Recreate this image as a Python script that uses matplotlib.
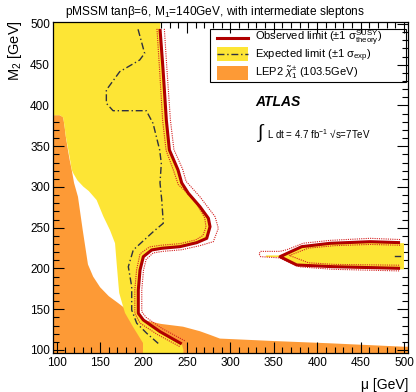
import matplotlib.pyplot as plt
from matplotlib.patches import Rectangle
from matplotlib.lines import Line2D
from matplotlib.ticker import MultipleLocator

# fontes parecidas com Helvetica (ROOT)
plt.rcParams['font.family'] = ['Liberation Sans', 'DejaVu Sans']
plt.rcParams['mathtext.fontset'] = 'custom'
plt.rcParams['mathtext.rm'] = 'Liberation Sans'
plt.rcParams['mathtext.it'] = 'Liberation Sans:italic'
plt.rcParams['mathtext.bf'] = 'Liberation Sans:bold'

# --- dados (mu, M2 em GeV) ---
# limite observado (curva principal)
obs_mu = [219, 222.5, 226.3, 229.8, 239.7, 244, 251.6, 265, 274.7, 276.6, 272.8, 261.3, 242, 221, 209.4, 199.8, 196, 194, 194, 199.8, 219, 244]
obs_m2 = [494, 444, 382, 345.4, 321, 305, 292.3, 275.8, 261.6, 251.3, 237, 231.7, 226.8, 224.8, 222.7, 214.5, 198.2, 173.6, 145, 136.8, 122.5, 107.4]

# +-1 sigma teórico
thy_a_mu = [224, 227, 231, 235, 245, 249, 265, 282.4, 286.2, 280.4, 265, 244, 222, 211, 203, 200, 198, 198, 203, 222, 248]
thy_a_m2 = [494, 444, 382, 346, 322, 307, 288, 263.6, 249.3, 232.9, 228, 223, 221, 219, 211, 198, 174, 147, 140, 126, 111]
thy_b_mu = [215.5, 218.5, 222, 226, 235, 240, 248, 261, 270.5, 272, 268.5, 260, 242, 220, 207, 196, 192, 190, 190, 196, 216, 242]
thy_b_m2 = [494, 444, 382, 345, 319, 303, 295, 280, 262, 251, 240.5, 235, 230.5, 228.5, 226.5, 218, 198, 174, 145, 133, 119, 104]

# limite esperado
exp_mu = [193.7, 201.3, 195.6, 172.6, 157.2, 157.2, 164.9, 203.2, 211, 218.6, 220.5, 219, 221, 222.8, 211.3, 188.2, 182.5, 186.4, 186.4, 192.2, 203.7, 219]
exp_m2 = [493.5, 464, 455.8, 441.5, 419, 402.7, 393.6, 393.6, 378, 345.4, 329, 305, 284, 255.5, 245.2, 222.7, 202.2, 177.7, 149, 132.8, 120.5, 106.1]

# banda amarela (esperado +-1 sigma), borda esquerda
yel_left_mu = [199.4, 199.4, 188, 178.7, 176, 172, 171, 169.1, 167.2, 161.4, 153.7, 146, 137, 130.7, 124, 119.5, 117.3, 115.5, 113.5, 110.5, 109, 107.5, 104, 90]
yel_left_m2 = [90, 108.6, 128.2, 145.4, 155, 170, 182, 206, 231, 247, 264, 284, 295, 300.4, 308, 316, 321, 333, 345, 362, 375, 385, 388, 388]

# LEP2
lep_mu = [90, 90, 104, 107.5, 109, 110.5, 113, 115, 117.3, 120, 124.5, 130, 136, 142, 150, 160, 170.6, 180, 190, 199.4, 220, 245.5, 265, 277, 288, 350, 415, 500, 510, 510]
lep_m2 = [90, 388, 388, 385.5, 375, 362, 345, 333, 321, 305, 288, 247, 205, 190, 177, 166, 157.7, 150, 143, 137, 132, 128.6, 123, 118.4, 114, 111, 108.2, 104, 104, 90]

# ilha à direita
isl_obs_mu = [495.5, 461, 414.9, 382.3, 357.3, 376.5, 418.7, 495.5]
isl_obs_m2 = [231.7, 232.9, 230.9, 226.8, 214.5, 204.3, 202.2, 200.2]
isl_yel_mu = [341, 357.3, 370, 382.3, 415, 461, 500, 500, 461, 418.7, 378, 368, 357.3, 341]
isl_yel_m2 = [216, 216, 222, 227.5, 231, 232, 231, 199, 199.5, 201.5, 204, 209, 214, 214]
isl_up_mu = [495.5, 461, 415, 384, 365, 357, 335, 333, 335, 357, 365, 380, 418, 495.5]
isl_up_m2 = [235.5, 237, 234.5, 231, 223, 221, 221, 218, 214.5, 213, 209, 202, 199, 197]
isl_dn_mu = [495.5, 461, 420, 390, 368, 390, 420, 495.5]
isl_dn_m2 = [228.5, 229.5, 228, 225, 216, 207, 205, 204]
isl_exp_mu = [490, 496]
isl_exp_m2 = [215, 215]

YELLOW = '#fde535'
ORANGE = '#fd9a36'
RED = '#b00000'
DOT = '#d42020'
EXPC = '#2e3040'
EXPLS = (0, (5, 2, 1, 2))

W, H = 416, 392
fig = plt.figure(figsize=(W / 100, H / 100), dpi=100)
ax = fig.add_axes([52.7 / W, 1 - 353 / H, (407.7 - 52.7) / W, (353 - 21.7) / H])


def fx(px):
    return px / W


def fy(py):
    return 1 - py / H


# regiões preenchidas
ax.fill(lep_mu, lep_m2, color=ORANGE, lw=0, zorder=1)
yel_mu = [90, 220] + obs_mu + [246, 246] + yel_left_mu
yel_m2 = [510, 510] + obs_m2 + [100, 90] + yel_left_m2
ax.fill(yel_mu, yel_m2, color=YELLOW, lw=0, zorder=2)
ax.fill(isl_yel_mu, isl_yel_m2, color=YELLOW, lw=0, zorder=2)

# curvas
ax.plot(exp_mu, exp_m2, color=EXPC, lw=1.0, ls=EXPLS, zorder=3)
ax.plot(isl_exp_mu, isl_exp_m2, color=EXPC, lw=1.0, zorder=3)
for xs, ys in [(thy_a_mu, thy_a_m2), (thy_b_mu, thy_b_m2), (isl_up_mu, isl_up_m2), (isl_dn_mu, isl_dn_m2)]:
    ax.plot(xs, ys, color=DOT, lw=0.8, ls=(0, (1, 1)), zorder=4)
ax.plot(obs_mu, obs_m2, color=RED, lw=2.2, zorder=5, solid_capstyle='butt')
ax.plot(isl_obs_mu, isl_obs_m2, color=RED, lw=2.2, zorder=5, solid_capstyle='butt')

# eixos
ax.set_xlim(95.4, 504.3)
ax.set_ylim(96.3, 502.8)
ax.xaxis.set_major_locator(MultipleLocator(50))
ax.xaxis.set_minor_locator(MultipleLocator(10))
ax.yaxis.set_major_locator(MultipleLocator(50))
ax.yaxis.set_minor_locator(MultipleLocator(10))
ax.tick_params(which='both', direction='in', top=True, right=True, width=0.8, labelsize=8.5, colors='black')
ax.tick_params(which='major', length=8, pad=3)
ax.tick_params(which='minor', length=4)
ax.tick_params(axis='y', pad=2)
for s in ax.spines.values():
    s.set_linewidth(0.9)

fig.text(fx(15), fy(20), 'M$_2$ [GeV]', rotation=90, ha='center', va='top', fontsize=10.5)
fig.text(fx(408), fy(385), 'μ [GeV]', ha='right', va='center', fontsize=10)
fig.text(fx(215), fy(12), 'pMSSM tanβ=6, M$_1$=140GeV, with intermediate sleptons', ha='center', va='center', fontsize=8.6)

# legenda desenhada à mão
fig.add_artist(Rectangle((fx(210), fy(82)), fx(406) - fx(210), fy(29) - fy(82), transform=fig.transFigure,
                         fill=False, ec='black', lw=0.8, zorder=10))
fig.add_artist(Line2D([fx(217), fx(248)], [fy(38), fy(38)], transform=fig.transFigure, color=RED, lw=2.2))
fig.add_artist(Rectangle((fx(217), fy(61)), fx(248) - fx(217), fy(47) - fy(61), transform=fig.transFigure,
                         color=YELLOW, lw=0))
fig.add_artist(Line2D([fx(217), fx(248)], [fy(54), fy(54)], transform=fig.transFigure, color=EXPC, lw=1.0, ls=EXPLS))
fig.add_artist(Rectangle((fx(217), fy(80)), fx(248) - fx(217), fy(66) - fy(80), transform=fig.transFigure,
                         color=ORANGE, lw=0))
fig.text(fx(255), fy(38), 'Observed limit (±1 σ$^{\\rm SUSY}_{\\rm theory}$)', ha='left', va='center', fontsize=8)
fig.text(fx(255), fy(56), 'Expected limit (±1 σ$_{\\rm exp}$)', ha='left', va='center', fontsize=8)
fig.text(fx(255), fy(73), 'LEP2 $\\tilde{\\chi}^{\\pm}_{1}$ (103.5GeV)', ha='left', va='center', fontsize=8)

# rótulos ATLAS
fig.text(fx(255), fy(102), 'ATLAS', ha='left', va='center', fontsize=10, fontweight='bold', fontstyle='italic')
fig.text(fx(258), fy(133), '∫', ha='left', va='center', fontsize=14)
fig.text(fx(267), fy(134), 'L dt = 4.7 fb$^{-1}$ √s=7TeV', ha='left', va='center', fontsize=7)

plt.savefig('out.png', dpi=100)
